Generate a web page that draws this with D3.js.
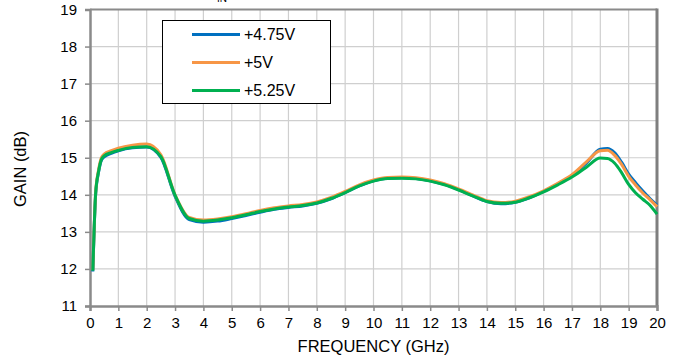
<!DOCTYPE html>
<html><head><meta charset="utf-8">
<script src="https://cdn.jsdelivr.net/npm/d3@7"></script>
<style>html,body{margin:0;padding:0;background:#fff;}svg{display:block;font-family:"Liberation Sans",Arial,sans-serif;}</style>
</head><body>
<svg id="c" width="679" height="362"></svg>
<script>
const freq = [0.1,0.2,0.3,0.4,0.5,0.75,1,1.5,2,2.5,3,3.5,4,4.5,5,5.5,6,6.5,7,7.5,8,8.5,9,9.5,10,10.5,11,11.5,12,12.5,13,13.5,14,14.5,15,15.5,16,16.5,17,17.5,18,18.25,18.5,18.75,19,19.25,19.5,19.75,20];
const gain475 = [11.93,14.02,14.6,14.93,15.02,15.12,15.19,15.27,15.29,15.01,13.96,13.33,13.26,13.29,13.36,13.44,13.53,13.61,13.66,13.7,13.77,13.89,14.06,14.24,14.38,14.45,14.46,14.44,14.38,14.28,14.14,13.97,13.82,13.76,13.8,13.92,14.09,14.29,14.52,14.85,15.23,15.25,15.14,14.88,14.56,14.32,14.1,13.9,13.72];
const gain5 = [11.97,14.07,14.66,15.0,15.1,15.19,15.26,15.34,15.37,15.08,14.0,13.39,13.32,13.35,13.41,13.49,13.58,13.65,13.7,13.74,13.81,13.93,14.09,14.27,14.4,14.47,14.48,14.46,14.4,14.3,14.16,14.0,13.84,13.79,13.83,13.95,14.11,14.31,14.54,14.88,15.19,15.2,15.07,14.82,14.5,14.26,14.05,13.87,13.68];
const gain525 = [11.95,14.05,14.62,14.95,15.05,15.14,15.2,15.28,15.3,15.03,13.99,13.36,13.29,13.32,13.38,13.46,13.55,13.62,13.67,13.71,13.78,13.9,14.06,14.24,14.37,14.44,14.45,14.43,14.37,14.27,14.13,13.97,13.82,13.77,13.8,13.92,14.08,14.27,14.48,14.74,14.99,14.98,14.86,14.6,14.28,14.05,13.88,13.72,13.48];
const seriesNames = ["+4.75V","+5V","+5.25V"];
const seriesColors = ["#0070c0","#f79646","#00b050"];
const xTicks = d3.range(0,21,1);
const yTicks = d3.range(11,20,1);

const svg = d3.select("#c");
const L=90, R=657, T=9.5, B=306;
const x = d3.scaleLinear().domain([0,20]).range([L,R]);
const y = d3.scaleLinear().domain([11,19]).range([B,T]);

// title fragment, clipped by the top edge as in the reference
svg.append("text").attr("x",217).attr("y",1.5).attr("font-size",10).attr("fill","#000").text("IN");

// grid
svg.append("g").selectAll("line").data(xTicks.slice(1,-1)).join("line")
  .attr("x1",d=>x(d)).attr("x2",d=>x(d)).attr("y1",T).attr("y2",B)
  .attr("stroke","#cfcfcf").attr("stroke-width",1.2);
svg.append("g").selectAll("line").data(yTicks.slice(1,-1)).join("line")
  .attr("x1",L).attr("x2",R).attr("y1",d=>y(d)).attr("y2",d=>y(d))
  .attr("stroke","#cfcfcf").attr("stroke-width",1.2);

// frame top/right
svg.append("line").attr("x1",L).attr("x2",R).attr("y1",T).attr("y2",T).attr("stroke","#8a8a8a").attr("stroke-width",2);
svg.append("line").attr("x1",R).attr("x2",R).attr("y1",T-1).attr("y2",B).attr("stroke","#7f7f7f").attr("stroke-width",3);

// axes
const xAxis = d3.axisBottom(x).tickValues(xTicks).tickSize(5).tickPadding(6).tickFormat(d3.format("d"));
const gx = svg.append("g").attr("transform",`translate(0,${B})`).call(xAxis);
const yAxis = d3.axisLeft(y).tickValues(yTicks).tickSize(5).tickPadding(8).tickFormat(d3.format("d"));
const gy = svg.append("g").attr("transform",`translate(${L},0)`).call(yAxis);
[gx,gy].forEach(g=>{
  g.select(".domain").attr("stroke","#8a8a8a").attr("stroke-width",2.5);
  g.selectAll(".tick line").attr("stroke","#8a8a8a").attr("stroke-width",1.5);
  g.selectAll(".tick text").attr("font-size",15).attr("fill","#000").attr("font-family","Liberation Sans, Arial, sans-serif");
});
gx.selectAll(".tick text").attr("dy","0.75em");

// series
const data = [gain475,gain5,gain525];
const line = d3.line().x((d,i)=>x(freq[i])).y(d=>y(d)).curve(d3.curveMonotoneX);
data.forEach((s,k)=>{
  svg.append("path").datum(s).attr("d",line).attr("fill","none")
    .attr("stroke",seriesColors[k]).attr("stroke-width",3).attr("stroke-linejoin","round");
});

// legend
const lg = svg.append("g");
lg.append("rect").attr("x",162.5).attr("y",20.5).attr("width",168).attr("height",83)
  .attr("fill","#fff").attr("stroke","#000").attr("stroke-width",1);
seriesNames.forEach((n,k)=>{
  const yy = 34.5 + k*28;
  lg.append("line").attr("x1",192).attr("x2",240).attr("y1",yy).attr("y2",yy)
    .attr("stroke",seriesColors[k]).attr("stroke-width",3);
  lg.append("text").attr("x",244).attr("y",yy).attr("dy","0.36em").attr("font-size",16).attr("fill","#000").text(n);
});

// axis titles
svg.append("text").attr("x",(L+R)/2).attr("y",352).attr("text-anchor","middle").attr("font-size",16.5).attr("fill","#000").text("FREQUENCY (GHz)");
svg.append("text").attr("transform","translate(26,169) rotate(-90)").attr("text-anchor","middle").attr("font-size",16.5).attr("fill","#000").text("GAIN (dB)");
</script>
</body></html>
